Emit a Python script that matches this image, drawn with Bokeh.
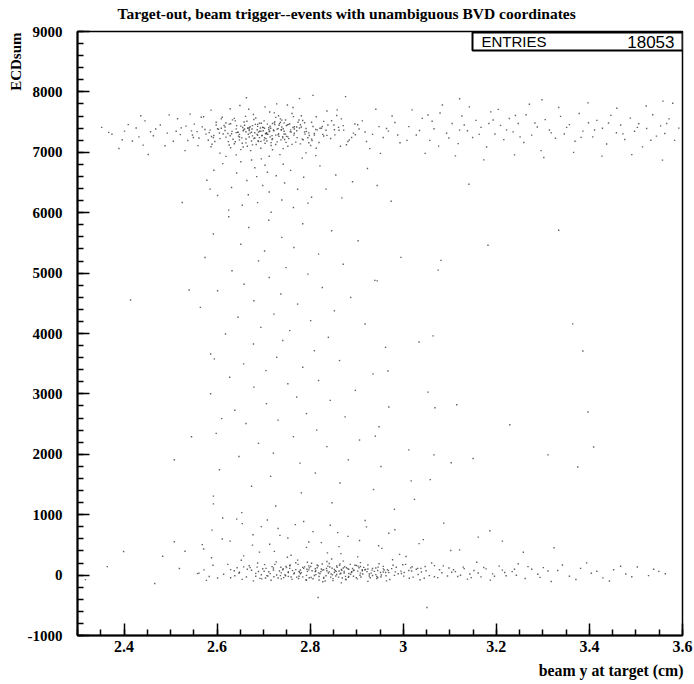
from bokeh.plotting import figure
from bokeh.models import Range1d, FixedTicker, CustomJSTickFormatter, Label, ColumnDataSource, BoxAnnotation, Title
from bokeh.embed import file_html
from bokeh.resources import INLINE

TITLE = "Target-out, beam trigger--events with unambiguous BVD coordinates"
X_LABEL = "beam y at target (cm)"
Y_LABEL = "ECDsum"
STAT_NAME = "ENTRIES"
STAT_VALUE = "18053"

x_ticks = [2.4, 2.6, 2.8, 3.0, 3.2, 3.4, 3.6]
x_minor = [2.3, 2.35, 2.4, 2.45, 2.5, 2.55, 2.6, 2.65, 2.7, 2.75, 2.8, 2.85, 2.9, 2.95,
           3.0, 3.05, 3.1, 3.15, 3.2, 3.25, 3.3, 3.35, 3.4, 3.45, 3.5, 3.55, 3.6]
y_ticks = [-1000, 0, 1000, 2000, 3000, 4000, 5000, 6000, 7000, 8000, 9000]
y_minor = [-1000, -800, -600, -400, -200, 0, 200, 400, 600, 800, 1000, 1200, 1400, 1600, 1800,
           2000, 2200, 2400, 2600, 2800, 3000, 3200, 3400, 3600, 3800, 4000, 4200, 4400, 4600,
           4800, 5000, 5200, 5400, 5600, 5800, 6000, 6200, 6400, 6600, 6800, 7000, 7200, 7400,
           7600, 7800, 8000, 8200, 8400, 8600, 8800, 9000]

# upper band (full-energy events)
top_core = [
    (2.712,7345),(2.655,7410),(2.688,7190),(2.741,7260),(2.603,7380),(2.779,7455),(2.634,7215),(2.701,7520),(2.726,7130),(2.667,7298),
    (2.758,7372),(2.619,7486),(2.694,7067),(2.783,7218),(2.645,7331),(2.732,7604),(2.676,7442),(2.809,7313),(2.588,7262),(2.715,7398),
    (2.662,7156),(2.744,7487),(2.697,7281),(2.626,7120),(2.771,7356),(2.683,7569),(2.737,7205),(2.651,7433),(2.803,7498),(2.719,7041),
    (2.574,7377),(2.689,7334),(2.752,7099),(2.637,7561),(2.795,7242),(2.708,7466),(2.669,7253),(2.824,7398),(2.613,7304),(2.761,7643),
    (2.729,7172),(2.641,7388),(2.784,7526),(2.698,7415),(2.656,7087),(2.836,7281),(2.722,7357),(2.598,7452),(2.747,7301),(2.678,7627),
    (2.705,7226),(2.769,7169),(2.628,7274),(2.813,7589),(2.686,7374),(2.739,7418),(2.561,7236),(2.658,7501),(2.792,7347),(2.716,7112),
    (2.747,7534),(2.632,7347),(2.702,7397),(2.851,7453),(2.674,7186),(2.765,7285),(2.609,7553),(2.734,7473),(2.691,7243),(2.819,7163),
    (2.648,7297),(2.777,7402),(2.713,7667),(2.583,7326),(2.754,7227),(2.666,7396),(2.798,7279),(2.724,7508),(2.639,7174),(2.862,7366),
    (2.695,7480),(2.742,7061),(2.617,7419),(2.788,7335),(2.679,7544),(2.731,7289),(2.653,7238),(2.829,7512),(2.707,7303),(2.595,7178),
    (2.766,7387),(2.684,7129),(2.749,7441),(2.623,7312),(2.806,7426),(2.718,7212),(2.661,7594),(2.774,7497),(2.699,7356),(2.844,7228),
    (2.523,7405),(2.547,7287),(2.871,7442),(2.893,7318),(2.912,7521),(2.537,7196),(2.884,7204),(2.566,7581),(2.905,7387),(2.857,7610),
    (2.512,7348),(2.878,7126),(2.934,7296),(2.551,7466),(2.896,7469),(2.587,7093),(2.867,7553),(2.921,7179),(2.542,7632),(2.948,7425),
    (2.606,6986),(2.712,6934),(2.668,7712),(2.763,7742),(2.641,6958),(2.791,6991),(2.728,7801),(2.587,7698),(2.836,7685),(2.695,6891),
    (2.751,7783),(2.628,7721),(2.812,6945),(2.674,6872),(2.858,7703),(2.619,6933),(2.703,7752),(2.783,6903),(2.649,7776),(2.735,6962),
    (2.968,7351),(2.982,7493),(2.957,7244),(2.993,7158),(2.976,7602),(2.941,7712),(2.928,7061),(2.964,7395),(2.988,7287),(2.951,6983),
    (2.493,7318),(2.478,7452),(2.506,7182),(2.463,7273),(2.515,7556),(2.488,7109),(2.531,7027),(2.468,7387),(2.497,7619),(2.521,7292),
    (2.672,7028),(2.723,7653),(2.687,7462),(2.759,7335),(2.646,7267),(2.714,7431),(2.694,7181),(2.738,7368),(2.664,7515),(2.702,7242),
    (2.681,7323),(2.726,7284),(2.657,7372),(2.736,7497),(2.703,7149),(2.671,7423),(2.745,7211),(2.691,7348),(2.719,7476),(2.648,7205),
    (2.764,7591),(2.609,7398),(2.797,7158),(2.633,7537),(2.815,7372),(2.592,7243),(2.781,7604),(2.629,7076),(2.826,7427),(2.605,7319),
    (2.742,7391),(2.676,7272),(2.706,7326),(2.733,7445),(2.669,7359),(2.711,7407),(2.687,7283),(2.752,7255),(2.659,7447),(2.721,7368),
    (2.352,7412),(2.374,7298),(2.401,7350),(2.418,7187),(2.432,7256),(2.389,7063),(2.445,7520),(2.426,7402),(2.457,7341),(2.441,7118),
    (2.367,7330),(2.409,7459),(2.452,6964),(2.436,7604),(2.396,7208),
    (2.806,7943),(2.876,7921),(2.663,7902),(2.777,7889),(3.121,7886),(3.298,7871),(3.558,7848),
    (2.617,7362),(2.642,7441),(2.671,7318),(2.693,7402),(2.718,7276),(2.744,7349),(2.766,7423),(2.789,7301),(2.812,7378),(2.838,7452),
    (2.606,7227),(2.631,7306),(2.659,7385),(2.682,7462),(2.707,7188),(2.733,7264),(2.757,7342),(2.781,7418),(2.804,7196),(2.829,7271),
    (2.598,7498),(2.624,7176),(2.648,7254),(2.674,7332),(2.699,7409),(2.723,7487),(2.748,7165),(2.772,7243),(2.797,7321),(2.821,7399),
    (2.611,7581),(2.637,7141),(2.662,7219),(2.686,7297),(2.711,7375),(2.736,7553),(2.761,7131),(2.785,7209),(2.809,7287),(2.834,7365),
    (2.589,7133),(2.615,7443),(2.639,7521),(2.665,7099),(2.689,7177),(2.714,7255),(2.739,7533),(2.763,7411),(2.788,7489),(2.813,7067),
    (2.576,7301),(2.601,7389),(2.626,7467),(2.651,7045),(2.676,7123),(2.701,7201),(2.726,7579),(2.751,7457),(2.776,7535),(2.801,7113),
    (2.853,7289),(2.872,7367),(2.889,7245),(2.846,7523),(2.865,7101),(2.881,7179),(2.902,7457),(2.918,7335),(2.861,7413),(2.897,7291),
    (2.656,7358),(2.681,7236),(2.706,7314),(2.731,7392),(2.756,7470),(2.694,7348),(2.719,7226),(2.744,7304),(2.669,7382),(2.724,7460),
    (2.641,7326),(2.666,7404),(2.691,7482),(2.716,7160),(2.741,7238),(2.766,7316),(2.791,7394),(2.629,7472),(2.654,7150),(2.679,7228),
    (2.704,7306),(2.729,7384),(2.754,7462),(2.779,7140),(2.803,7218),(2.827,7296),(2.852,7374),(2.619,7252),(2.644,7330),(2.669,7408),
    (2.557,7343),(2.568,7421),(2.581,7199),(2.593,7277),(2.545,7355),(2.533,7433),(2.559,7111),(2.571,7589),(2.585,7367),(2.549,7245),
    (2.696,7273),(2.713,7351),(2.687,7429),(2.732,7307),(2.675,7385),(2.749,7263),(2.662,7341),(2.771,7419),(2.709,7297),(2.738,7375),
]

top_right = [
    (3.012,7425),(3.028,7286),(3.041,7562),(3.057,7198),(3.066,7390),(3.079,7651),(3.093,7315),(3.105,7478),(3.118,7143),(3.126,7601),
    (3.138,7357),(3.149,7245),(3.156,7528),(3.167,7412),(3.179,7087),(3.188,7669),(3.197,7303),(3.209,7446),(3.216,7210),(3.228,7559),
    (3.236,7338),(3.247,7477),(3.259,7163),(3.264,7621),(3.276,7285),(3.288,7419),(3.296,7027),(3.305,7541),(3.314,7368),(3.327,7233),
    (3.338,7594),(3.346,7302),(3.357,7458),(3.369,7182),(3.378,7643),(3.386,7351),(3.398,7488),(3.407,7256),(3.416,7529),(3.428,7397),
    (3.437,7138),(3.446,7612),(3.458,7324),(3.467,7451),(3.476,7212),(3.488,7566),(3.497,7349),(3.506,7472),(3.514,7089),(3.523,7395),
    (3.536,7621),(3.544,7268),(3.553,7437),(3.562,7312),(3.571,7554),(3.583,7198),(3.592,7401),(3.019,7703),(3.047,6982),(3.084,7784),
    (3.112,6941),(3.142,7752),(3.173,6874),(3.204,7711),(3.239,6957),(3.271,7795),(3.302,6913),(3.334,7741),(3.366,6998),(3.397,7818),
    (3.427,6936),(3.459,7729),(3.491,6962),(3.522,7766),(3.557,6871),(3.579,7812),(3.035,7362),(3.062,7514),(3.098,7237),(3.131,7452),
    (3.163,7296),(3.193,7534),(3.222,7371),(3.251,7255),(3.283,7486),(3.318,7322),(3.351,7412),(3.382,7247),(3.411,7368),(3.441,7486),
    (3.472,7305),(3.503,7412),(3.532,7199),(3.566,7476),(3.008,7197),(3.053,7618),(3.076,7102),(3.121,7367),(3.184,7478),(3.241,7609),
]

# events between the two bands
middle = [
    (2.612,6812),(2.703,6785),(2.681,6743),(2.758,6701),(2.642,6657),(2.727,6612),(2.786,6588),(2.664,6534),(2.821,6776),(2.593,6703),
    (2.745,6492),(2.698,6451),(2.631,6418),(2.773,6389),(2.855,6623),(2.712,6342),(2.667,6298),(2.803,6257),(2.739,6211),(2.578,6538),
    (2.687,6166),(2.654,6123),(2.764,6087),(2.625,6042),(2.834,6391),(2.716,6008),(2.891,6512),(2.742,6803),(2.685,6597),(2.923,6731),
    (2.601,6285),(2.795,6159),(2.868,6245),(2.651,6843),(2.708,6669),
    (2.625,5932),(2.711,5874),(2.784,5817),(2.668,5755),(2.846,5702),(2.592,5648),(2.739,5591),(2.903,5536),(2.651,5478),(2.765,5423),
    (2.702,5367),(2.818,5314),(2.574,5259),(2.689,5202),(2.871,5147),(2.748,5091),(2.632,5038),(2.795,4983),(2.712,4927),(2.944,4872),
    (2.658,4816),(2.826,4762),(2.601,4708),(2.737,4653),(2.887,4597),(2.679,4542),(2.773,4487),(2.564,4432),(2.852,4376),(2.722,4321),
    (2.645,4268),(2.801,4213),(2.918,4158),(2.694,4102),(2.756,4047),(2.618,3992),(2.839,3937),(2.741,3883),(2.678,3826),(2.962,3771),
    (2.809,3715),(2.586,3661),(2.728,3606),(2.863,3552),(2.657,3497),(2.784,3441),(2.705,3386),(2.935,3331),(2.627,3276),(2.818,3222),
    (2.752,3167),(2.679,3112),(2.897,3058),(2.586,3003),(2.771,2948),(2.843,2893),(2.706,2839),(2.969,2784),(2.638,2729),(2.792,2674),
    (2.875,2619),(2.731,2565),(2.662,2509),(2.948,2455),(2.814,2401),(2.598,2346),(2.764,2291),(2.906,2236),(2.689,2182),(2.836,2127),
    (3.012,2073),(2.721,2018),(2.647,1963),(2.882,1908),(2.778,1854),(2.952,1799),(2.605,1744),(2.811,1690),(2.715,1635),(3.058,1581),
    (2.864,1526),(2.674,1471),(2.936,1417),(2.781,1362),(2.592,1307),(3.024,1253),(2.847,1198),(2.726,1143),(2.981,1089),(2.653,1034),
    (2.414,4554),(2.540,4720),(2.525,6170),(2.585,6390),(2.508,1910),(2.545,2290),(2.610,2590),(2.594,3580),
    (3.334,5710),(3.364,4160),(3.386,3710),(3.397,2700),(3.409,2120),(3.375,1790),(3.311,1990),(3.229,2490),(3.150,1930),(3.182,5460),
    (3.081,5210),(3.075,5050),(3.064,3960),(3.034,3860),(3.115,2820),(3.068,2770),(3.053,3030),(3.141,6470),(2.995,5260),(2.974,6190),
    (2.944,6450),(2.939,4880),(2.967,3380),(2.940,2300),(3.066,1990),(3.103,1860),(3.017,1560),(2.592,1180),
    (2.612,945),(2.708,912),(2.786,887),(2.654,852),(2.843,826),(2.921,798),(2.731,771),(2.589,745),(2.806,719),(2.969,692),
    (2.677,668),(2.881,641),(2.752,615),(3.043,588),(2.628,562),(2.824,537),(2.713,512),(2.947,486),(2.792,459),(2.571,433),
    (3.102,407),(2.691,381),(2.866,355),(2.759,329),(3.006,309),(2.642,926),(2.918,903),(3.087,861),(2.768,835),(2.695,803),
    (2.982,752),(2.859,703),(2.735,657),(3.161,628),(2.611,598),(2.906,574),(2.797,549),(3.034,521),(2.676,497),(2.862,471),
    (2.954,443),(3.121,418),(2.723,392),(2.837,368),(2.992,343),(2.657,318),(3.213,562),(3.258,378),(2.531,395),(2.483,312),
    (3.324,452),(3.186,734),(2.588,288),(2.751,295),(2.902,301),(2.568,504),(2.508,553),(2.399,390),
]

# lower band (pedestal events)
bottom = [
    (2.852,92),(2.781,41),(2.915,128),(2.734,67),(2.963,-12),(2.826,183),(2.887,15),(2.705,112),(3.012,76),(2.798,-45),
    (2.871,231),(2.756,154),(2.938,61),(2.683,29),(3.047,143),(2.812,8),(2.901,-63),(2.769,205),(2.975,107),(2.841,54),
    (2.722,-28),(3.083,38),(2.863,162),(2.793,97),(2.948,189),(2.657,136),(3.021,-34),(2.832,-97),(2.894,81),(2.746,6),
    (2.989,23),(2.815,121),(2.702,173),(3.108,89),(2.876,-21),(2.773,248),(2.924,-104),(2.648,48),(3.061,201),(2.846,266),
    (2.761,-71),(2.957,145),(2.804,73),(2.881,104),(2.727,219),(3.032,9),(2.867,-128),(2.784,128),(2.931,32),(2.692,-54),
    (3.129,132),(2.823,58),(2.908,207),(2.741,89),(2.995,66),(2.857,11),(2.776,-18),(2.966,91),(2.674,81),(3.074,-41),
    (2.838,149),(2.889,47),(2.716,-86),(3.005,177),(2.809,-7),(2.945,-39),(2.753,42),(2.874,138),(2.638,-12),(3.098,117),
    (2.829,88),(2.912,71),(2.791,-76),(2.977,253),(2.866,31),(2.737,131),(3.039,52),(2.803,196),(2.953,1),(2.698,104),
    (3.143,18),(2.849,-58),(2.896,164),(2.765,23),(2.927,-16),(2.818,37),(2.743,-41),(3.016,119),(2.883,95),(2.669,154),
    (2.971,-73),(2.835,109),(2.779,84),(3.056,-8),(2.861,-33),(2.711,56),(2.941,118),(2.797,152),(3.117,-22),(2.854,72),
    (2.629,91),(2.663,-31),(2.687,201),(2.614,14),(2.652,246),(2.601,-47),(2.643,122),(2.678,-96),(2.623,178),(2.695,5),
    (3.152,76),(3.167,-29),(3.178,103),(3.192,21),(3.206,148),(3.221,-12),(3.234,58),(3.247,187),(3.262,-57),(3.276,96),
    (3.289,13),(3.301,124),(3.138,-67),(3.158,212),(3.187,-84),(3.213,82),(3.243,-3),(3.268,141),(3.294,-38),(3.311,67),
    (2.845,17),(2.819,-24),(2.873,59),(2.907,-2),(2.786,111),(2.933,83),(2.762,74),(2.858,128),(2.899,-41),(2.815,166),
    (2.951,42),(2.721,118),(2.877,-78),(2.839,34),(2.985,131),(2.747,-12),(2.864,186),(2.919,93),(2.802,-39),(3.028,97),
    (2.757,168),(2.883,26),(2.943,-57),(2.826,82),(2.908,142),(2.792,-5),(2.968,74),(2.849,-92),(2.738,37),(3.067,157),
    (2.811,104),(2.893,-18),(2.775,-57),(2.924,168),(2.856,61),(2.709,-15),(3.002,44),(2.836,226),(2.878,122),(2.769,91),
    (2.913,19),(2.827,-111),(2.957,103),(2.794,62),(2.869,-47),(2.748,144),(3.045,-53),(2.842,134),(2.902,66),(2.728,1),
    (3.332,76),(3.357,-18),(3.381,112),(3.404,31),(3.429,-46),(3.452,88),(3.478,17),(3.503,134),(3.527,-9),(3.549,61),
    (3.342,168),(3.371,-73),(3.416,63),(3.467,146),(3.491,-28),(3.538,97),(3.563,23),(3.318,-107),(3.394,203),(3.443,-98),
    (2.572,87),(2.583,-24),(2.591,163),(2.561,32),(2.577,-88),(2.466,-140),(2.364,140),(2.558,25),(2.519,110),(2.317,-75),
    (3.051,-537),(2.817,-370),
    (2.852,42),(2.871,118),(2.893,76),(2.834,-12),(2.817,154),(2.908,33),(2.797,87),(2.929,-45),(2.779,23),(2.946,132),
    (2.862,67),(2.841,193),(2.883,-23),(2.824,102),(2.903,149),(2.806,-61),(2.922,58),(2.788,136),(2.941,8),(2.771,-34),
    (2.959,84),(2.753,51),(2.978,162),(2.736,-8),(2.996,27),(2.718,141),(3.013,-52),(2.701,63),(3.031,112),(2.683,-19),
    (3.049,71),(2.665,97),(3.067,-28),(2.647,31),(3.086,153),(2.629,-43),(3.104,46),(3.123,-3),(2.857,151),(2.876,-66),
    (2.848,3),(2.867,93),(2.886,177),(2.829,-38),(2.811,57),(2.905,121),(2.792,-88),(2.924,102),(2.774,178),(2.943,-21),
    (2.756,111),(2.962,43),(2.738,-63),(2.981,-5),(2.721,84),(2.999,171),(2.704,-48),(3.018,68),(2.686,132),(3.036,-76),
    (2.855,-14),(2.873,36),(2.891,109),(2.836,71),(2.819,-82),(2.909,-31),(2.801,142),(2.927,17),(2.784,-29),(2.945,77),
    (2.766,34),(2.964,-96),(2.749,124),(2.983,54),(2.731,-49),(3.001,-17),(2.714,25),(3.019,138),(2.696,-63),(3.038,112),
    (2.868,78),(2.844,-33),(2.889,56),(2.821,26),(2.912,88),(2.798,119),(2.934,-7),(2.776,61),(2.957,52),(2.753,-21),
    (3.078,88),(3.095,-14),(3.112,58),(3.131,107),(3.146,-41),(3.161,35),(3.173,127),(3.196,-19),(3.218,44),(3.239,96),
    (2.637,72),(2.654,-71),(2.671,124),(2.689,59),(2.707,-9),(2.724,177),(2.742,104),(2.759,-32),(2.777,47),(2.794,212),
    (2.812,72),(2.829,-52),(2.847,113),(2.864,19),(2.882,-37),(2.899,158),(2.917,86),(2.934,112),(2.952,-27),(2.969,41),
]

points = top_core + top_right + middle + bottom
xs = [pt[0] for pt in points]
ys = [pt[1] for pt in points]

# frame geometry (canvas pixels)
W, H = 694, 684
FL, FR, FT, FB = 77, 682, 31, 635
X0, X1, Y0, Y1 = 2.3, 3.6, -1000, 9000

def dx(px):
    return X0 + (px - FL) * (X1 - X0) / (FR - FL)

def dy(py):
    return Y1 - (py - FT) * (Y1 - Y0) / (FB - FT)

serif = "Liberation Serif"

p = figure(width=W, height=H, x_range=Range1d(X0, X1), y_range=Range1d(Y0, Y1),
           output_backend="svg", toolbar_location=None,
           min_border_left=FL, min_border_right=W - FR, min_border_top=FT, min_border_bottom=H - FB)
p.title.text = TITLE
p.title.align = "left"
p.title.offset = 40
p.title.text_font = serif
p.title.text_font_style = "bold"
p.title.text_font_size = "15.5px"
p.title.text_color = "black"
p.title.standoff = 2
# small empty spacer between the title and the frame
p.add_layout(Title(text=" ", text_font_size="7px", standoff=0), "above")

p.xgrid.visible = False
p.ygrid.visible = False
p.outline_line_color = "black"
p.outline_line_width = 1.5
p.background_fill_color = "white"
p.border_fill_color = "white"

for ax in (p.xaxis[0], p.yaxis[0]):
    ax.axis_line_width = 2
    ax.axis_line_color = "black"
    ax.major_tick_in = 12
    ax.major_tick_out = 0
    ax.minor_tick_in = 6
    ax.minor_tick_out = 0
    ax.major_tick_line_color = "black"
    ax.minor_tick_line_color = "black"
    ax.major_tick_line_width = 1.5
    ax.minor_tick_line_width = 1.5
    ax.major_label_text_font = serif
    ax.major_label_text_font_style = "bold"
    ax.major_label_text_color = "black"

p.xaxis.ticker = FixedTicker(ticks=x_ticks, minor_ticks=x_minor)
p.xaxis.formatter = CustomJSTickFormatter(code="return (Math.round(tick*10)/10).toString();")
p.xaxis.major_label_standoff = 5
p.xaxis.major_label_text_font_size = "16px"
p.yaxis.ticker = FixedTicker(ticks=y_ticks, minor_ticks=y_minor)
p.yaxis.formatter = CustomJSTickFormatter(code="return Math.round(tick).toString();")
p.yaxis.major_label_standoff = 15
p.yaxis.major_label_text_font_size = "15px"

src = ColumnDataSource(dict(x=xs, y=ys))
p.scatter("x", "y", source=src, marker="square", size=1.4, fill_color="#3a3a3a",
          line_color=None, fill_alpha=0.8)

# axis titles (placed at the ends of the axes)
p.add_layout(Title(text=X_LABEL, align="right", offset=-1, text_font=serif, text_font_style="bold",
                   text_font_size="15.8px", text_color="black", standoff=10), "below")
p.add_layout(Title(text=Y_LABEL, align="right", offset=1, text_font=serif, text_font_style="bold",
                   text_font_size="15px", text_color="black", standoff=2), "left")

# statistics box
p.add_layout(BoxAnnotation(left=dx(472), right=dx(682), top=dy(32), bottom=dy(50),
                           fill_color="white", fill_alpha=1, line_color="black", line_alpha=1,
                           line_width=2, level="overlay"))
p.add_layout(Label(x=dx(481), y=dy(41), text=STAT_NAME, text_font="Liberation Sans",
                   text_font_size="15px", text_align="left", text_baseline="middle", text_color="black",
                   level="overlay"))
p.add_layout(Label(x=dx(674), y=dy(41), text=STAT_VALUE, text_font="Liberation Sans",
                   text_font_size="17px", text_align="right", text_baseline="middle", text_color="black",
                   level="overlay"))

open("out.html", "w").write(file_html(p, INLINE))
